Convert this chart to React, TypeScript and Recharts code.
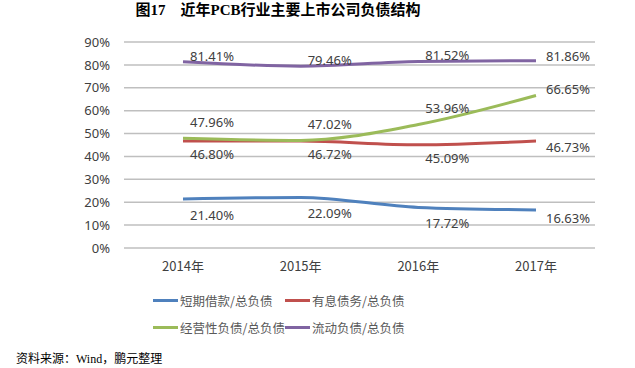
import { LineChart, Line, XAxis, YAxis, CartesianGrid, LabelList } from 'recharts'

const years = ['2014年', '2015年', '2016年', '2017年']
const shortTermLoans = [21.4, 22.09, 17.72, 16.63]
const interestDebt = [46.8, 46.72, 45.09, 46.73]
const operatingDebt = [47.96, 47.02, 53.96, 66.65]
const currentDebt = [81.41, 79.46, 81.52, 81.86]
const yTicks = [0, 10, 20, 30, 40, 50, 60, 70, 80, 90]

const series = [
  { key: 'short', name: '短期借款/总负债', values: shortTermLoans, color: '#4F81BD', dy: 16, lastDy: 8 },
  { key: 'interest', name: '有息债务/总负债', values: interestDebt, color: '#C0504D', dy: 13, lastDy: 6 },
  { key: 'operating', name: '经营性负债/总负债', values: operatingDebt, color: '#9BBB59', dy: -16, lastDy: -6 },
  { key: 'current', name: '流动负债/总负债', values: currentDebt, color: '#8064A2', dy: -6, lastDy: -5 },
]

const chartData = years.map((year, i) => {
  const row: any = { year }
  series.forEach((s) => {
    row[s.key] = s.values[i]
  })
  return row
})

const textColor = '#404040'
const cjk = "'Noto Sans CJK SC', 'Noto Sans', sans-serif"

// data labels sit a bit to the right of each point, last one further right
const makeLabel = (dy: number, lastDy: number) => (props: any) => {
  const { x, y, value, index } = props
  const last = index === years.length - 1
  return (
    <text
      x={x + (last ? 32 : 29)}
      y={y + (last ? lastDy : dy)}
      textAnchor="middle"
      dominantBaseline="central"
      fontSize={13}
      fontFamily="'Noto Sans', sans-serif"
      fill={textColor}
    >
      {Number(value).toFixed(2)}%
    </text>
  )
}

export default function App() {
  return (
    <div style={{ position: 'absolute', left: 0, top: 0, width: 635, height: 368, background: '#fff', overflow: 'hidden' }}>
      <div
        style={{
          position: 'absolute',
          top: -2,
          left: 0,
          width: 556,
          textAlign: 'center',
          fontSize: 15,
          fontWeight: 'bold',
          fontFamily: "'Liberation Serif', 'Noto Sans CJK SC', serif",
          color: '#000',
          whiteSpace: 'pre',
        }}
      >
        {'图17    近年PCB行业主要上市公司负债结构'}
      </div>
      <LineChart width={635} height={368} data={chartData} margin={{ top: 42, right: 40, left: 64, bottom: 90 }}>
        <CartesianGrid vertical={false} stroke="#BFBFBF" strokeWidth={1.5} />
        <XAxis
          dataKey="year"
          axisLine={false}
          tickLine={false}
          height={30}
          padding={{ left: 59, right: 59 }}
          tick={{ fill: textColor, fontSize: 13, fontFamily: cjk }}
          dy={6}
        />
        <YAxis
          domain={[0, 90]}
          ticks={yTicks}
          interval={0}
          axisLine={false}
          tickLine={false}
          width={60}
          tickFormatter={(v) => `${v}%`}
          tick={{ fill: textColor, fontSize: 13, fontFamily: "'Noto Sans', sans-serif" }}
          dx={-6}
        />
        {series.map((s) => (
          <Line
            key={s.key}
            type="monotone"
            dataKey={s.key}
            name={s.name}
            stroke={s.color}
            strokeWidth={3}
            dot={false}
            activeDot={false}
            isAnimationActive={false}
          >
            <LabelList dataKey={s.key} content={makeLabel(s.dy, s.lastDy)} />
          </Line>
        ))}
      </LineChart>
      <div
        style={{
          position: 'absolute',
          left: 153,
          top: 291,
          display: 'grid',
          gridTemplateColumns: '132px auto',
          rowGap: 9,
          fontSize: 12.5,
          fontFamily: cjk,
          color: '#595959',
        }}
      >
        {series.map((s) => (
          <div key={s.key} style={{ display: 'flex', alignItems: 'center', height: 18 }}>
            <span style={{ display: 'inline-block', width: 25, height: 3, background: s.color, marginRight: 2 }} />
            <span>{s.name}</span>
          </div>
        ))}
      </div>
      <div
        style={{
          position: 'absolute',
          left: 16,
          top: 349,
          fontSize: 12,
          fontFamily: "'Liberation Serif', 'Noto Sans CJK SC', serif",
          color: '#000',
        }}
      >
        资料来源：Wind，鹏元整理
      </div>
    </div>
  )
}
